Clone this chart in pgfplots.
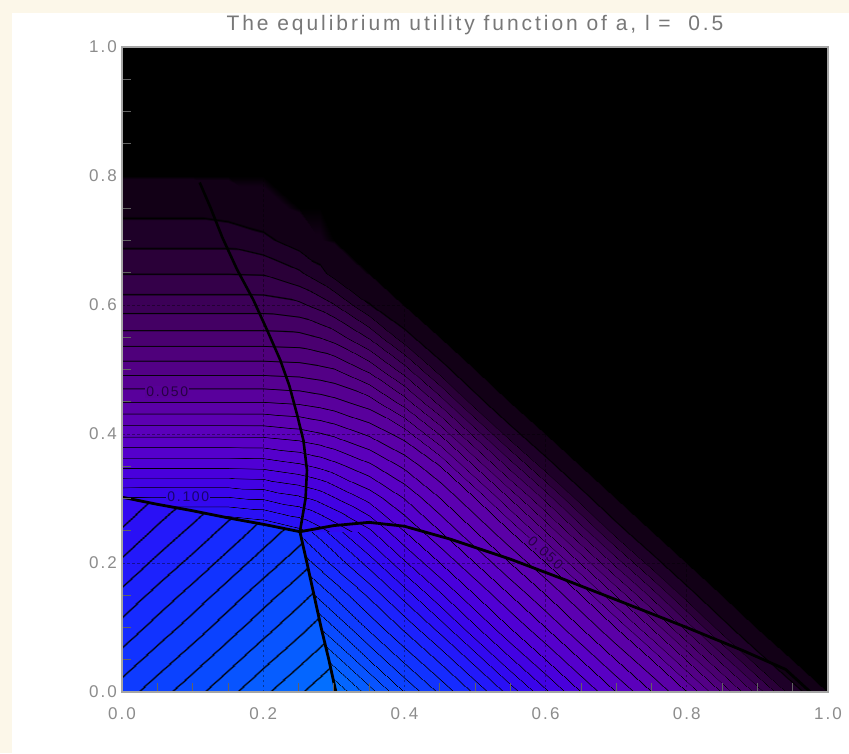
\documentclass[border=0pt]{standalone}
\usepackage{fontspec}
\setmainfont{Liberation Sans}
\newfontfamily\tickfont{Liberation Sans}[LetterSpace=12]
\newfontfamily\titlefont{Liberation Sans}[LetterSpace=14]
\newfontfamily\labfont{Liberation Sans}[LetterSpace=12]
\usepackage{pgfplots}
\usepackage{pgfplotstable}
\pgfplotsset{compat=1.18}
\definecolor{cream}{RGB}{252,247,233}
\definecolor{tickgray}{RGB}{140,140,140}
\definecolor{titlegray}{RGB}{120,120,120}
\definecolor{framegray}{RGB}{165,165,165}
\definecolor{labA}{RGB}{87,0,150}
\definecolor{labB}{RGB}{54,7,237}
\pgfplotsset{colormap={idl}{rgb255(0pt)=(0,0,0);
rgb255(6.5pt)=(18,0,22); rgb255(93.5pt)=(18,0,22); rgb255(100pt)=(0,0,0);
rgb255(106.5pt)=(30,0,40); rgb255(193.5pt)=(30,0,40); rgb255(200pt)=(0,0,0);
rgb255(206.5pt)=(42,0,56); rgb255(293.5pt)=(42,0,56); rgb255(300pt)=(0,0,0);
rgb255(306.5pt)=(52,0,73); rgb255(393.5pt)=(52,0,73); rgb255(400pt)=(0,0,0);
rgb255(406.5pt)=(60,0,87); rgb255(493.5pt)=(60,0,87); rgb255(500pt)=(0,0,0);
rgb255(506.5pt)=(68,0,100); rgb255(593.5pt)=(68,0,100); rgb255(600pt)=(0,0,0);
rgb255(606.5pt)=(74,0,112); rgb255(693.5pt)=(74,0,112); rgb255(700pt)=(0,0,0);
rgb255(706.5pt)=(79,0,123); rgb255(793.5pt)=(79,0,123); rgb255(800pt)=(0,0,0);
rgb255(806.5pt)=(83,0,134); rgb255(893.5pt)=(83,0,134); rgb255(900pt)=(0,0,0);
rgb255(906.5pt)=(86,0,145); rgb255(993.5pt)=(86,0,145); rgb255(1000pt)=(0,0,0);
rgb255(1006.5pt)=(89,0,156); rgb255(1093.5pt)=(89,0,156); rgb255(1100pt)=(0,0,0);
rgb255(1106.5pt)=(91,0,167); rgb255(1193.5pt)=(91,0,167); rgb255(1200pt)=(0,0,0);
rgb255(1206.5pt)=(92,0,177); rgb255(1293.5pt)=(92,0,177); rgb255(1300pt)=(0,0,0);
rgb255(1306.5pt)=(91,0,187); rgb255(1393.5pt)=(91,0,187); rgb255(1400pt)=(0,0,0);
rgb255(1406.5pt)=(89,0,196); rgb255(1493.5pt)=(89,0,196); rgb255(1500pt)=(0,0,0);
rgb255(1506.5pt)=(85,0,204); rgb255(1593.5pt)=(85,0,204); rgb255(1600pt)=(0,0,0);
rgb255(1606.5pt)=(80,0,212); rgb255(1693.5pt)=(80,0,212); rgb255(1700pt)=(0,0,0);
rgb255(1706.5pt)=(73,0,220); rgb255(1793.5pt)=(73,0,220); rgb255(1800pt)=(0,0,0);
rgb255(1806.5pt)=(66,2,227); rgb255(1893.5pt)=(66,2,227); rgb255(1900pt)=(0,0,0);
rgb255(1906.5pt)=(58,5,234); rgb255(1993.5pt)=(58,5,234); rgb255(2000pt)=(0,0,0);
rgb255(2006.5pt)=(50,9,240); rgb255(2093.5pt)=(50,9,240); rgb255(2100pt)=(0,0,0);
rgb255(2106.5pt)=(42,16,245); rgb255(2193.5pt)=(42,16,245); rgb255(2200pt)=(0,0,0);
rgb255(2206.5pt)=(35,25,250); rgb255(2293.5pt)=(35,25,250); rgb255(2300pt)=(0,0,0);
rgb255(2306.5pt)=(28,34,253); rgb255(2393.5pt)=(28,34,253); rgb255(2400pt)=(0,0,0);
rgb255(2406.5pt)=(22,43,255); rgb255(2493.5pt)=(22,43,255); rgb255(2500pt)=(0,0,0);
rgb255(2506.5pt)=(17,51,255); rgb255(2593.5pt)=(17,51,255); rgb255(2600pt)=(0,0,0);
rgb255(2606.5pt)=(14,59,255); rgb255(2693.5pt)=(14,59,255); rgb255(2700pt)=(0,0,0);
rgb255(2706.5pt)=(11,66,255); rgb255(2793.5pt)=(11,66,255); rgb255(2800pt)=(0,0,0);
rgb255(2806.5pt)=(9,75,255); rgb255(2893.5pt)=(9,75,255); rgb255(2900pt)=(0,0,0);
rgb255(2906.5pt)=(8,84,255); rgb255(2993.5pt)=(8,84,255); rgb255(3000pt)=(0,0,0);
rgb255(3006.5pt)=(6,93,255); rgb255(3093.5pt)=(6,93,255); rgb255(3100pt)=(0,0,0);
rgb255(3106.5pt)=(4,102,255); rgb255(3193.5pt)=(4,102,255); rgb255(3200pt)=(0,0,0);
rgb255(3206.5pt)=(3,111,255); rgb255(3293.5pt)=(3,111,255); rgb255(3300pt)=(0,0,0);
rgb255(3306.5pt)=(1,120,255); rgb255(3393.5pt)=(1,120,255); rgb255(3400pt)=(0,0,0);
rgb255(3406.5pt)=(0,128,255); rgb255(3500pt)=(0,128,255)}}
% utility values (in units of 0.005) on a 22 x 18 structured grid;
% duplicated nodes along the thick boundaries carry the jump across them
\pgfplotstableread{
x y L
0 0 26.5
0.05 0 27.58
0.1 0 28.65
0.15 0 29.73
0.2 0 30.8
0.25 0 31.88
0.303 0 33.01
0.303 0 32.85
0.35 0 30.5
0.4 0 28
0.45 0 25.8
0.5 0 23.8
0.55 0 21.6
0.6 0 19.2
0.65 0 17
0.7 0 15
0.75 0 13
0.8 0 11
0.85 0 7.9
0.9 0 4.6
0.95 0 1.4
1 0 0
0 0.05 25.43
0.05 0.05 26.5
0.1 0.05 27.58
0.15 0.05 28.65
0.2 0.05 29.73
0.25 0.05 30.8
0.293 0.05 31.72
0.293 0.05 30.85
0.35 0.05 28
0.4 0.05 25.8
0.45 0.05 23.8
0.5 0.05 21.6
0.55 0.05 19.2
0.6 0.05 17
0.65 0.05 15
0.7 0.05 13
0.75 0.05 11
0.8 0.05 7.9
0.85 0.05 4.6
0.9 0.05 1.4
0.95 0.05 0
1 0.05 0
0 0.1 24.35
0.05 0.1 25.43
0.1 0.1 26.5
0.15 0.1 27.58
0.2 0.1 28.65
0.25 0.1 29.73
0.282 0.1 30.41
0.282 0.1 28.9
0.35 0.1 25.8
0.4 0.1 23.8
0.45 0.1 21.6
0.5 0.1 19.2
0.55 0.1 17
0.6 0.1 15
0.65 0.1 13
0.7 0.1 11
0.75 0.1 7.9
0.8 0.1 4.6
0.85 0.1 1.4
0.9 0.1 0
0.95 0.1 0
1 0.1 0
0 0.15 23.28
0.05 0.15 24.35
0.1 0.15 25.43
0.15 0.15 26.5
0.2 0.15 27.58
0.25 0.15 28.65
0.272 0.15 29.12
0.272 0.15 27.03
0.35 0.15 23.8
0.4 0.15 21.6
0.45 0.15 19.2
0.5 0.15 17
0.55 0.15 15
0.6 0.15 13
0.65 0.15 11
0.7 0.15 7.9
0.75 0.15 4.6
0.8 0.15 1.4
0.85 0.15 0
0.9 0.15 0
0.95 0.15 0
1 0.15 0
0 0.2 22.2
0.05 0.2 23.28
0.1 0.2 24.35
0.15 0.2 25.43
0.2 0.2 26.5
0.25 0.2 27.58
0.262 0.2 27.83
0.262 0.2 25.32
0.35 0.2 21.6
0.4 0.2 19.2
0.45 0.2 17
0.5 0.2 15
0.55 0.2 13
0.6 0.2 11
0.65 0.2 7.9
0.7 0.2 4.6
0.75 0.2 1.4
0.8 0.2 0
0.85 0.2 0
0.9 0.2 0
0.95 0.2 0
1 0.2 0
0 0.302 20.0
0.05 0.291 21.32
0.1 0.281 22.61
0.15 0.27 23.92
0.2 0.26 25.21
0.25 0.249 26.52
0.252 0.2485 26.58
0.252 0.2485 23.78
0.35 0.25 19.2
0.4 0.25 17
0.45 0.25 15
0.5 0.25 13
0.55 0.25 11
0.6 0.25 7.9
0.65 0.25 4.6
0.7 0.25 1.4
0.75 0.25 0
0.8 0.25 0
0.85 0.25 0
0.9 0.25 0
0.95 0.25 0
1 0.25 0
0 0.302 19.98
0.05 0.291 20.75
0.1 0.281 21.47
0.15 0.27 22.2
0.2 0.26 22.46
0.25 0.249 22.3
0.252 0.2485 22.3
0.252 0.2485 22.3
0.35 0.3 16.65
0.4 0.3 14.97
0.45 0.3 13
0.5 0.3 11
0.55 0.3 7.9
0.6 0.3 4.6
0.65 0.3 1.4
0.7 0.3 0
0.75 0.3 0
0.8 0.3 0
0.85 0.3 0
0.9 0.3 0
0.95 0.3 0
1 0.3 0
0 0.35 16.79
0.05 0.35 16.79
0.1 0.35 16.79
0.15 0.35 16.79
0.2 0.35 16.73
0.25 0.35 16.25
0.28 0.35 15.79
0.3 0.35 15.39
0.35 0.35 14.26
0.4 0.35 12.8
0.45 0.35 11
0.5 0.35 7.9
0.55 0.35 4.6
0.6 0.35 1.4
0.65 0.35 0
0.7 0.35 0
0.75 0.35 0
0.8 0.35 0
0.85 0.35 0
0.9 0.35 0
0.95 0.35 0
1 0.35 0
0 0.4 13.75
0.05 0.4 13.75
0.1 0.4 13.75
0.15 0.4 13.75
0.2 0.4 13.74
0.25 0.4 13.44
0.28 0.4 13.1
0.3 0.4 12.81
0.35 0.4 11.85
0.4 0.4 10.56
0.45 0.4 7.9
0.5 0.4 4.6
0.55 0.4 1.4
0.6 0.4 0
0.65 0.4 0
0.7 0.4 0
0.75 0.4 0
0.8 0.4 0
0.85 0.4 0
0.9 0.4 0
0.95 0.4 0
1 0.4 0
0 0.45 11.01
0.05 0.45 11.01
0.1 0.45 11.01
0.15 0.45 11.01
0.2 0.45 11.01
0.25 0.45 10.84
0.28 0.45 10.58
0.3 0.45 10.34
0.35 0.45 9.5
0.4 0.45 7.55
0.45 0.45 4.6
0.5 0.45 1.4
0.55 0.45 0
0.6 0.45 0
0.65 0.45 0
0.7 0.45 0
0.75 0.45 0
0.8 0.45 0
0.85 0.45 0
0.9 0.45 0
0.95 0.45 0
1 0.45 0
0 0.5 8.56
0.05 0.5 8.56
0.1 0.5 8.56
0.15 0.5 8.56
0.2 0.5 8.56
0.25 0.5 8.46
0.28 0.5 8.24
0.3 0.5 8.03
0.35 0.5 6.71
0.4 0.5 4.43
0.45 0.5 1.4
0.5 0.5 0
0.55 0.5 0
0.6 0.5 0
0.65 0.5 0
0.7 0.5 0
0.75 0.5 0
0.8 0.5 0
0.85 0.5 0
0.9 0.5 0
0.95 0.5 0
1 0.5 0
0 0.55 6.4
0.05 0.55 6.4
0.1 0.55 6.4
0.15 0.55 6.4
0.2 0.55 6.4
0.25 0.55 6.32
0.28 0.55 5.96
0.3 0.55 5.56
0.35 0.55 3.87
0.4 0.55 1.36
0.45 0.55 0
0.5 0.55 0
0.55 0.55 0
0.6 0.55 0
0.65 0.55 0
0.7 0.55 0
0.75 0.55 0
0.8 0.55 0
0.85 0.55 0
0.9 0.55 0
0.95 0.55 0
1 0.55 0
0 0.6 4.53
0.05 0.6 4.53
0.1 0.6 4.53
0.15 0.6 4.53
0.2 0.6 4.53
0.25 0.6 4.24
0.28 0.6 3.63
0.3 0.6 3.07
0.35 0.6 1.06
0.4 0.6 0
0.45 0.6 0
0.5 0.6 0
0.55 0.6 0
0.6 0.6 0
0.65 0.6 0
0.7 0.6 0
0.75 0.6 0
0.8 0.6 0
0.85 0.6 0
0.9 0.6 0
0.95 0.6 0
1 0.6 0
0 0.65 2.96
0.05 0.65 2.96
0.1 0.65 2.96
0.15 0.65 2.96
0.2 0.65 2.91
0.25 0.65 2.17
0.28 0.65 1.32
0.3 0.65 0.58
0.35 0.65 0
0.4 0.65 0
0.45 0.65 0
0.5 0.65 0
0.55 0.65 0
0.6 0.65 0
0.65 0.65 0
0.7 0.65 0
0.75 0.65 0
0.8 0.65 0
0.85 0.65 0
0.9 0.65 0
0.95 0.65 0
1 0.65 0
0 0.7 1.68
0.05 0.7 1.68
0.1 0.7 1.68
0.15 0.7 1.68
0.2 0.7 1.28
0.25 0.7 0.45
0.28 0.7 0.08
0.3 0.7 0
0.35 0.7 0
0.4 0.7 0
0.45 0.7 0
0.5 0.7 0
0.55 0.7 0
0.6 0.7 0
0.65 0.7 0
0.7 0.7 0
0.75 0.7 0
0.8 0.7 0
0.85 0.7 0
0.9 0.7 0
0.95 0.7 0
1 0.7 0
0 0.75 0.69
0.05 0.75 0.69
0.1 0.75 0.69
0.15 0.75 0.51
0.2 0.75 0.2
0.25 0.75 0
0.28 0.75 0
0.3 0.75 0
0.35 0.75 0
0.4 0.75 0
0.45 0.75 0
0.5 0.75 0
0.55 0.75 0
0.6 0.75 0
0.65 0.75 0
0.7 0.75 0
0.75 0.75 0
0.8 0.75 0
0.85 0.75 0
0.9 0.75 0
0.95 0.75 0
1 0.75 0
0 0.8 0
0.05 0.8 0
0.1 0.8 0
0.15 0.8 0
0.2 0.8 0
0.25 0.8 0
0.28 0.8 0
0.3 0.8 0
0.35 0.8 0
0.4 0.8 0
0.45 0.8 0
0.5 0.8 0
0.55 0.8 0
0.6 0.8 0
0.65 0.8 0
0.7 0.8 0
0.75 0.8 0
0.8 0.8 0
0.85 0.8 0
0.9 0.8 0
0.95 0.8 0
1 0.8 0
0 1 0
0.05 1 0
0.1 1 0
0.15 1 0
0.2 1 0
0.25 1 0
0.28 1 0
0.3 1 0
0.35 1 0
0.4 1 0
0.45 1 0
0.5 1 0
0.55 1 0
0.6 1 0
0.65 1 0
0.7 1 0
0.75 1 0
0.8 1 0
0.85 1 0
0.9 1 0
0.95 1 0
1 1 0
}\utilitygrid
\begin{document}
\begin{tikzpicture}[x=1pt,y=1pt]
\useasboundingbox (0,0) rectangle (849,753);
\fill[cream] (0,0) rectangle (849,753);
\fill[white] (12,0) rectangle (849,740);
\begin{axis}[
  at={(122pt,61pt)}, anchor=south west,
  scale only axis, width=706pt, height=645pt,
  xmin=0, xmax=1, ymin=0, ymax=1, enlargelimits=false,
  axis on top,
  colormap name=idl, point meta min=0, point meta max=35,
  axis line style={draw=framegray, line width=1.2pt},
  xtick={0,0.2,0.4,0.6,0.8,1}, ytick={0,0.2,0.4,0.6,0.8,1},
  xtick pos=left, ytick pos=left,
  minor tick num=3, tick align=inside,
  major tick length=0pt, minor tick length=9pt,
  minor tick style={draw=tickgray!70!black, line width=0.8pt},
  grid=major,
  major grid style={draw=black, opacity=0.4, dash pattern=on 2.5pt off 2.5pt, line width=0.7pt},
  xticklabel={\pgfmathprintnumber[fixed,fixed zerofill,precision=1,assume math mode=true]{\tick}},
  yticklabel={\pgfmathprintnumber[fixed,fixed zerofill,precision=1,assume math mode=true]{\tick}},
  tick label style={font=\fontsize{17}{19}\selectfont\tickfont, text=tickgray},
  xticklabel style={anchor=north, yshift=-15pt, inner sep=0pt},
  yticklabel style={anchor=east, xshift=-5pt, inner sep=0pt},
  title={The equlibrium utility function of a, l =\ \ 0.5},
  title style={font=\fontsize{21}{24}\selectfont\titlefont, text=titlegray, at={(0.5,1)}, anchor=base, yshift=10pt, inner sep=0pt},
]
\addplot[surf, shader=interp, mesh/cols=22, point meta=explicit] table[x=x, y=y, meta=L] {\utilitygrid};
% thick equilibrium boundaries
\addplot[black, line width=2.8pt, line join=round] coordinates {(0,0.302) (0.05,0.291) (0.1,0.281) (0.15,0.27) (0.2,0.26) (0.25,0.249) (0.252,0.2485)};
\addplot[black, line width=2.8pt, line join=round] coordinates {(0.252,0.2485) (0.262,0.2) (0.272,0.15) (0.282,0.1) (0.293,0.05) (0.303,0)};
\addplot[black, line width=2.6pt, line join=round] coordinates {(0.252,0.2485) (0.26,0.3) (0.262,0.344) (0.257,0.39) (0.248,0.43) (0.237,0.475) (0.224,0.515) (0.206,0.56) (0.186,0.608) (0.163,0.655) (0.142,0.705) (0.125,0.752) (0.11,0.79)};
\addplot[black, line width=2.8pt, line join=round] coordinates {(0.252,0.2485) (0.3,0.258) (0.35,0.263) (0.4,0.257) (0.465,0.237) (0.55,0.206) (0.625,0.175) (0.7,0.143) (0.8,0.1) (0.88,0.064) (0.94,0.035) (0.975,0)};
\node[font=\fontsize{14}{16}\selectfont\labfont, fill=labA, inner sep=1pt, text=black, text opacity=0.55] at (axis cs:0.064,0.465) {0.050};
\node[font=\fontsize{14}{16}\selectfont\labfont, fill=labB, inner sep=1pt, text=black, text opacity=0.55] at (axis cs:0.094,0.303) {0.100};
\node[font=\fontsize{14}{16}\selectfont\labfont, fill=labA, inner sep=1pt, text=black, text opacity=0.55, rotate=-42] at (axis cs:0.6,0.216) {0.050};
\end{axis}
\end{tikzpicture}
\end{document}
